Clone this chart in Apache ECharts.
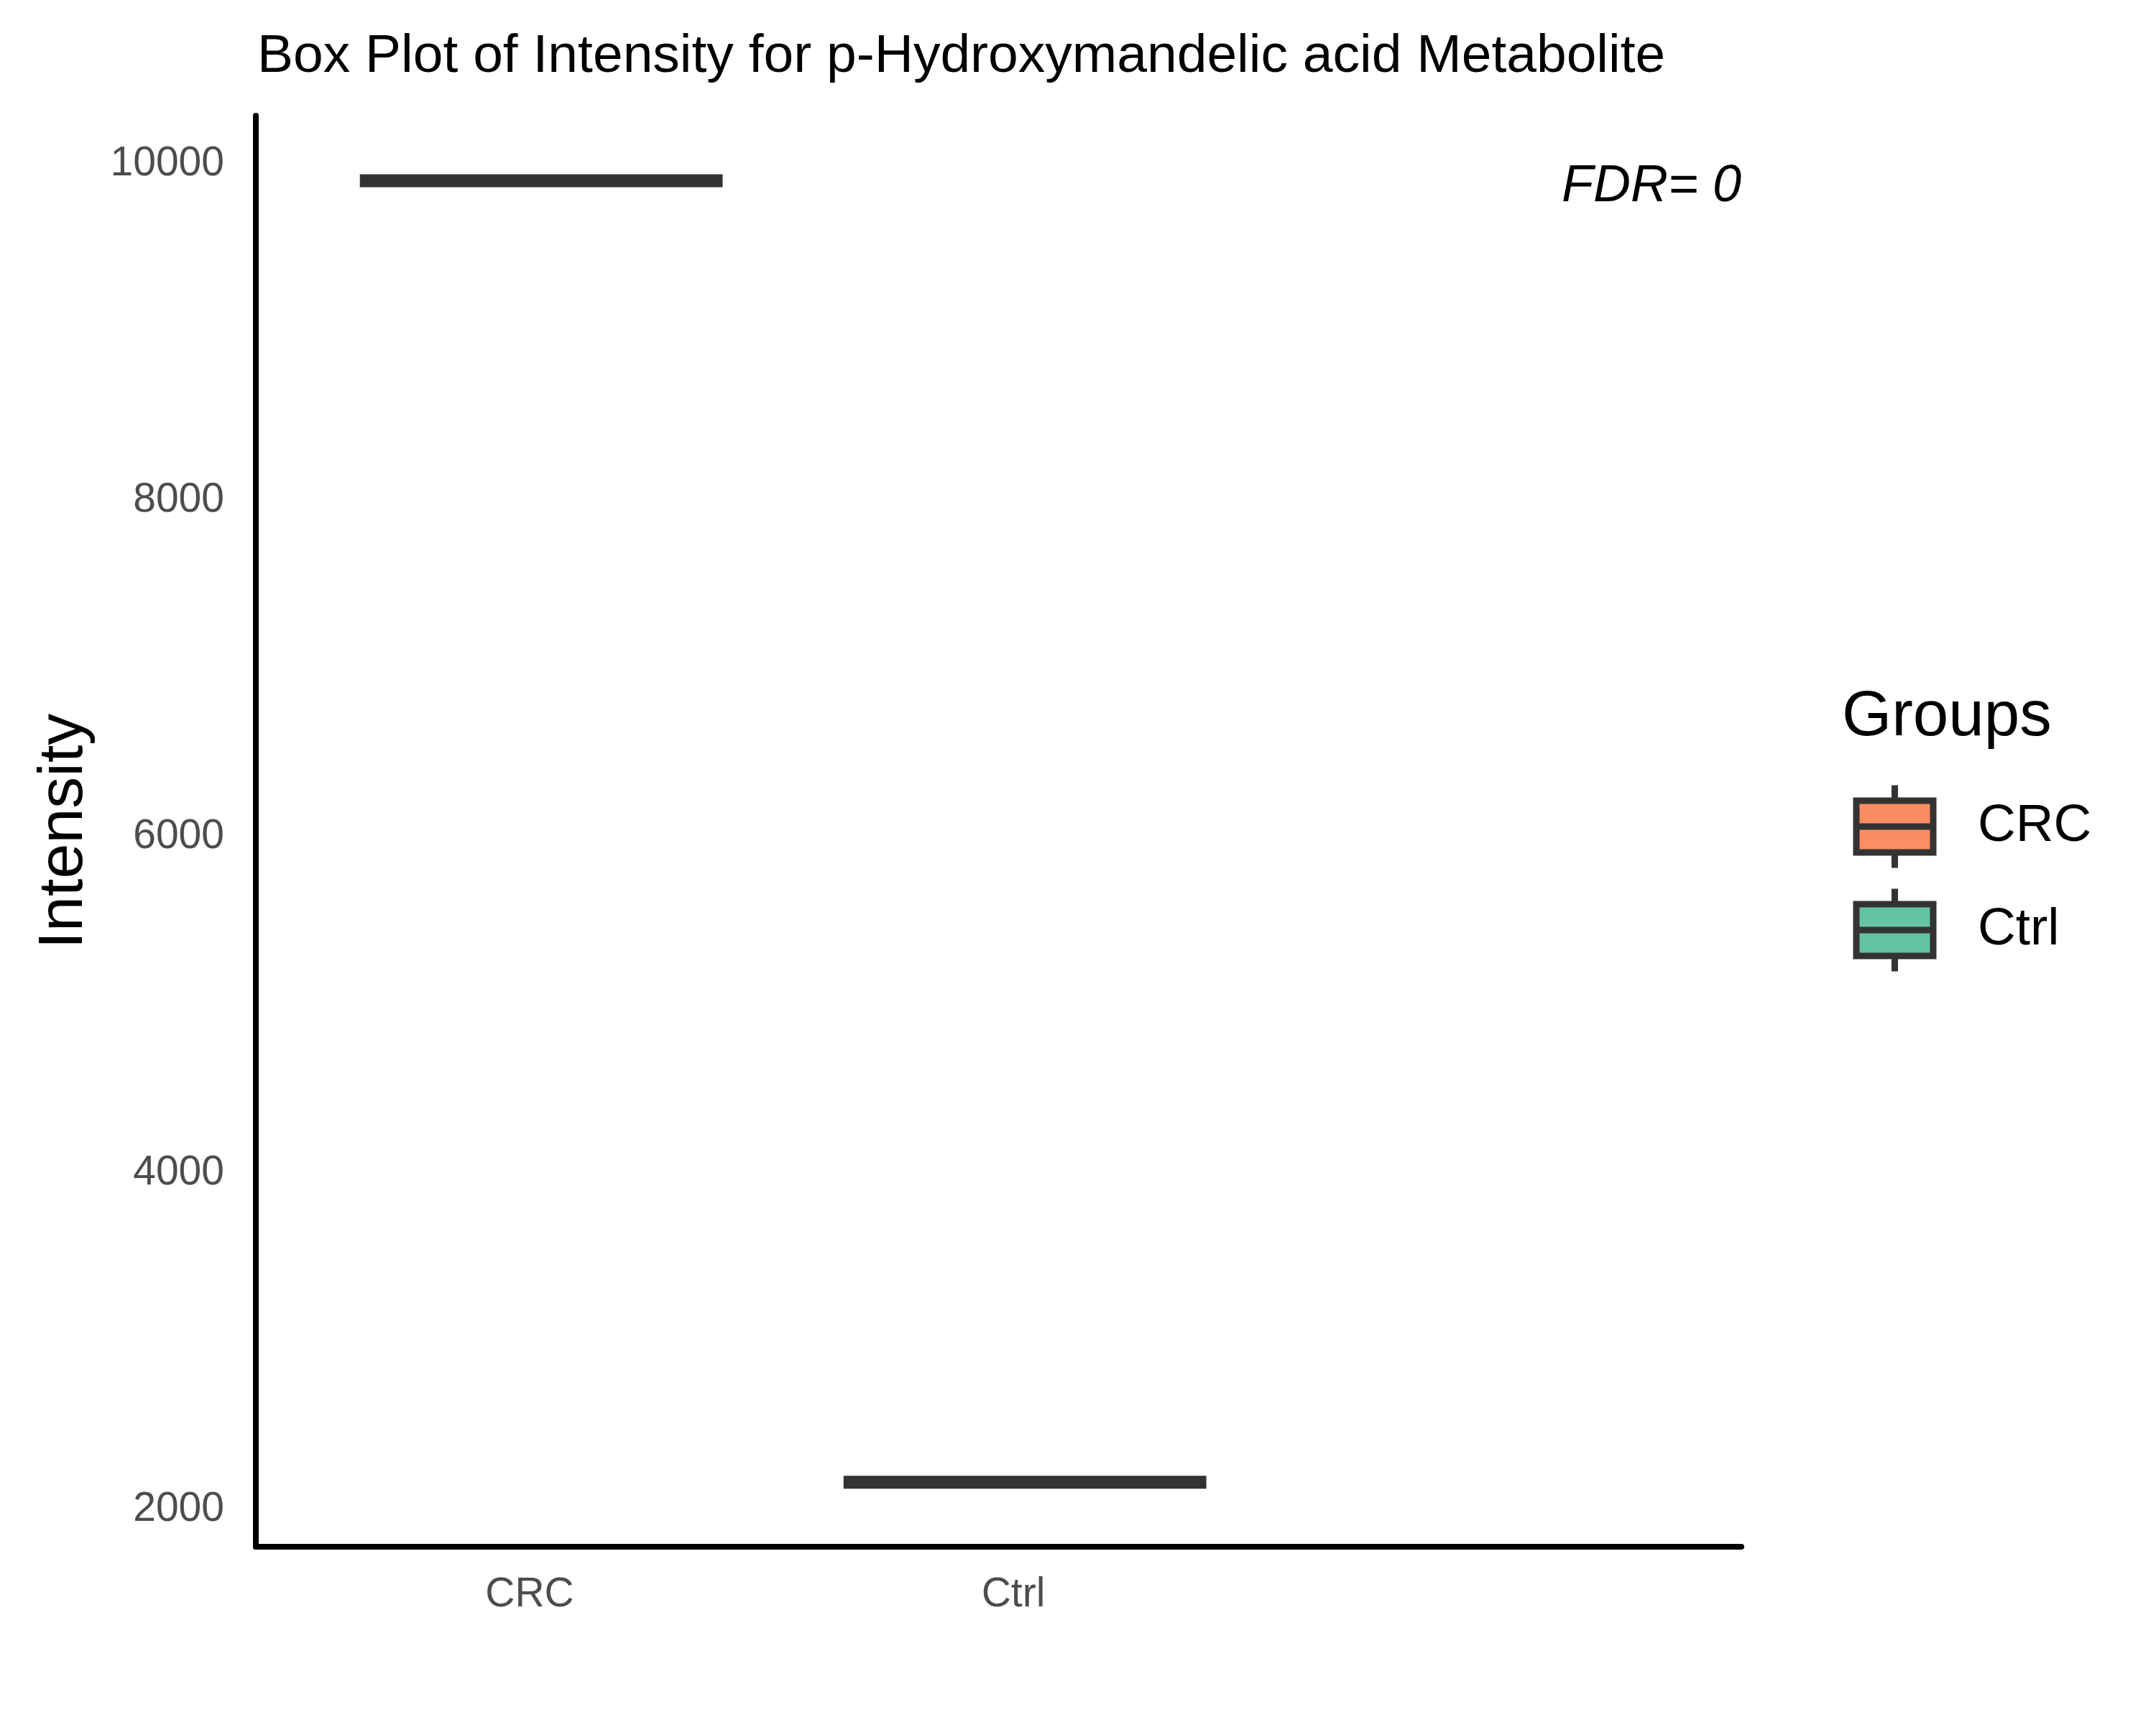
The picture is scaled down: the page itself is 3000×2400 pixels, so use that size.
<!DOCTYPE html>
<html><head><meta charset="utf-8">
<script src="https://cdn.jsdelivr.net/npm/echarts@6/dist/echarts.min.js"></script>
<style>html,body{margin:0;padding:0;background:#fff}#c{width:3000px;height:2400px}</style>
</head><body><div id="c"></div>
<script>
// ---- data ----
const groups = ['CRC', 'Ctrl'];
const groupPos = [1, 2];
const whiskerLow = [9899, 2162];
const q1 = [9899, 2162];
const median = [9899, 2162];
const q3 = [9899, 2162];
const whiskerHigh = [9899, 2162];
const yTicks = [2000, 4000, 6000, 8000, 10000];
const chartTitle = 'Box Plot of Intensity for p-Hydroxymandelic acid Metabolite';
const yTitle = 'Intensity';
const legendTitle = 'Groups';
const fdrText = 'FDR= 0';

// ---- style ----
const FONT = '"Liberation Sans", Arial, Helvetica, sans-serif';
const colors = ['#FC8D62', '#66C2A5'];
const STROKE = '#333333';
const BOX_W = 0.75;
const DODGE = 0.024;

function renderBox(params, api) {
  const x = api.value(0) + DODGE;
  const hw = api.size([BOX_W, 0])[0] / 2;
  const pLo = api.coord([x, api.value(1)]);
  const pQ1 = api.coord([x, api.value(2)]);
  const pMed = api.coord([x, api.value(3)]);
  const pQ3 = api.coord([x, api.value(4)]);
  const pHi = api.coord([x, api.value(5)]);
  const children = [
    {type: 'line', shape: {x1: pHi[0], y1: pHi[1], x2: pQ3[0], y2: pQ3[1]}, style: {stroke: STROKE, lineWidth: 9}},
    {type: 'line', shape: {x1: pQ1[0], y1: pQ1[1], x2: pLo[0], y2: pLo[1]}, style: {stroke: STROKE, lineWidth: 9}}
  ];
  if (pQ1[1] - pQ3[1] > 0.5) {
    children.push({type: 'rect', shape: {x: pMed[0] - hw, y: pQ3[1], width: 2 * hw, height: pQ1[1] - pQ3[1]},
      style: {fill: api.visual('color'), stroke: STROKE, lineWidth: 9}});
  }
  children.push({type: 'line', shape: {x1: pMed[0] - hw, y1: pMed[1], x2: pMed[0] + hw, y2: pMed[1]},
    style: {stroke: STROKE, lineWidth: 18, lineCap: 'butt'}});
  return {type: 'group', children};
}

const legendIcon = 'path://M58 0L58 21.5M4.5 21.5L111.5 21.5L111.5 57.5L4.5 57.5ZM4.5 57.5L111.5 57.5L111.5 93.5L4.5 93.5ZM58 93.5L58 115';

const chart = echarts.init(document.getElementById('c'), null, {renderer: 'canvas'});
chart.setOption({
  backgroundColor: '#ffffff',
  animation: false,
  textStyle: {fontFamily: FONT},
  title: {
    text: chartTitle, left: 358, top: 42, padding: 0,
    textStyle: {fontSize: 75, fontWeight: 'normal', color: '#000', lineHeight: 75, fontFamily: FONT}
  },
  grid: {left: 356, right: 577, top: 161, bottom: 248, containLabel: false, outerBoundsMode: 'none'},
  xAxis: {
    type: 'value', min: 0.434, max: 3.505,
    splitLine: {show: false}, axisTick: {show: false},
    axisLine: {show: true, onZero: false, lineStyle: {color: '#000', width: 8}},
    axisLabel: {
      customValues: groupPos,
      formatter: v => { const i = groupPos.indexOf(v); return i >= 0 ? groups[i] : ''; },
      fontSize: 57, color: '#4D4D4D', margin: 39, fontFamily: FONT
    }
  },
  yAxis: {
    type: 'value', min: 1778, max: 10286,
    name: yTitle, nameLocation: 'middle', nameGap: 222, nameRotate: 90,
    nameTextStyle: {fontSize: 88, color: '#000', fontFamily: FONT},
    splitLine: {show: false}, axisTick: {show: false},
    axisLine: {show: true, onZero: false, lineStyle: {color: '#000', width: 8}},
    axisLabel: {customValues: yTicks, formatter: v => String(v), fontSize: 57, color: '#4D4D4D', margin: 44,
      padding: [16, 0, 0, 0], fontFamily: FONT}
  },
  legend: {
    orient: 'vertical', left: 2578.5, top: 1088, padding: 0,
    itemWidth: 107, itemHeight: 115, itemGap: 20,
    icon: legendIcon,
    itemStyle: {borderColor: STROKE, borderWidth: 9},
    textStyle: {fontSize: 73, color: '#000', fontFamily: FONT, padding: [0, 0, 0, 57]},
    data: groups, selectedMode: false
  },
  graphic: [
    {type: 'text', x: 2563, y: 998, style: {text: legendTitle, fontSize: 89, fontFamily: FONT, fill: '#000', textAlign: 'left', textVerticalAlign: 'middle', verticalAlign: 'middle'}},
    {type: 'text', x: 2423, y: 260, style: {text: fdrText, fontSize: 72, fontStyle: 'italic', fontFamily: FONT, fill: '#000', textAlign: 'right', textVerticalAlign: 'middle', verticalAlign: 'middle'}}
  ],
  series: groups.map((g, i) => ({
    type: 'custom', name: g, coordinateSystem: 'cartesian2d',
    itemStyle: {color: colors[i]},
    renderItem: renderBox,
    encode: {x: 0, y: [1, 2, 3, 4, 5]},
    data: [[groupPos[i], whiskerLow[i], q1[i], median[i], q3[i], whiskerHigh[i]]]
  }))
});
</script></body></html>
